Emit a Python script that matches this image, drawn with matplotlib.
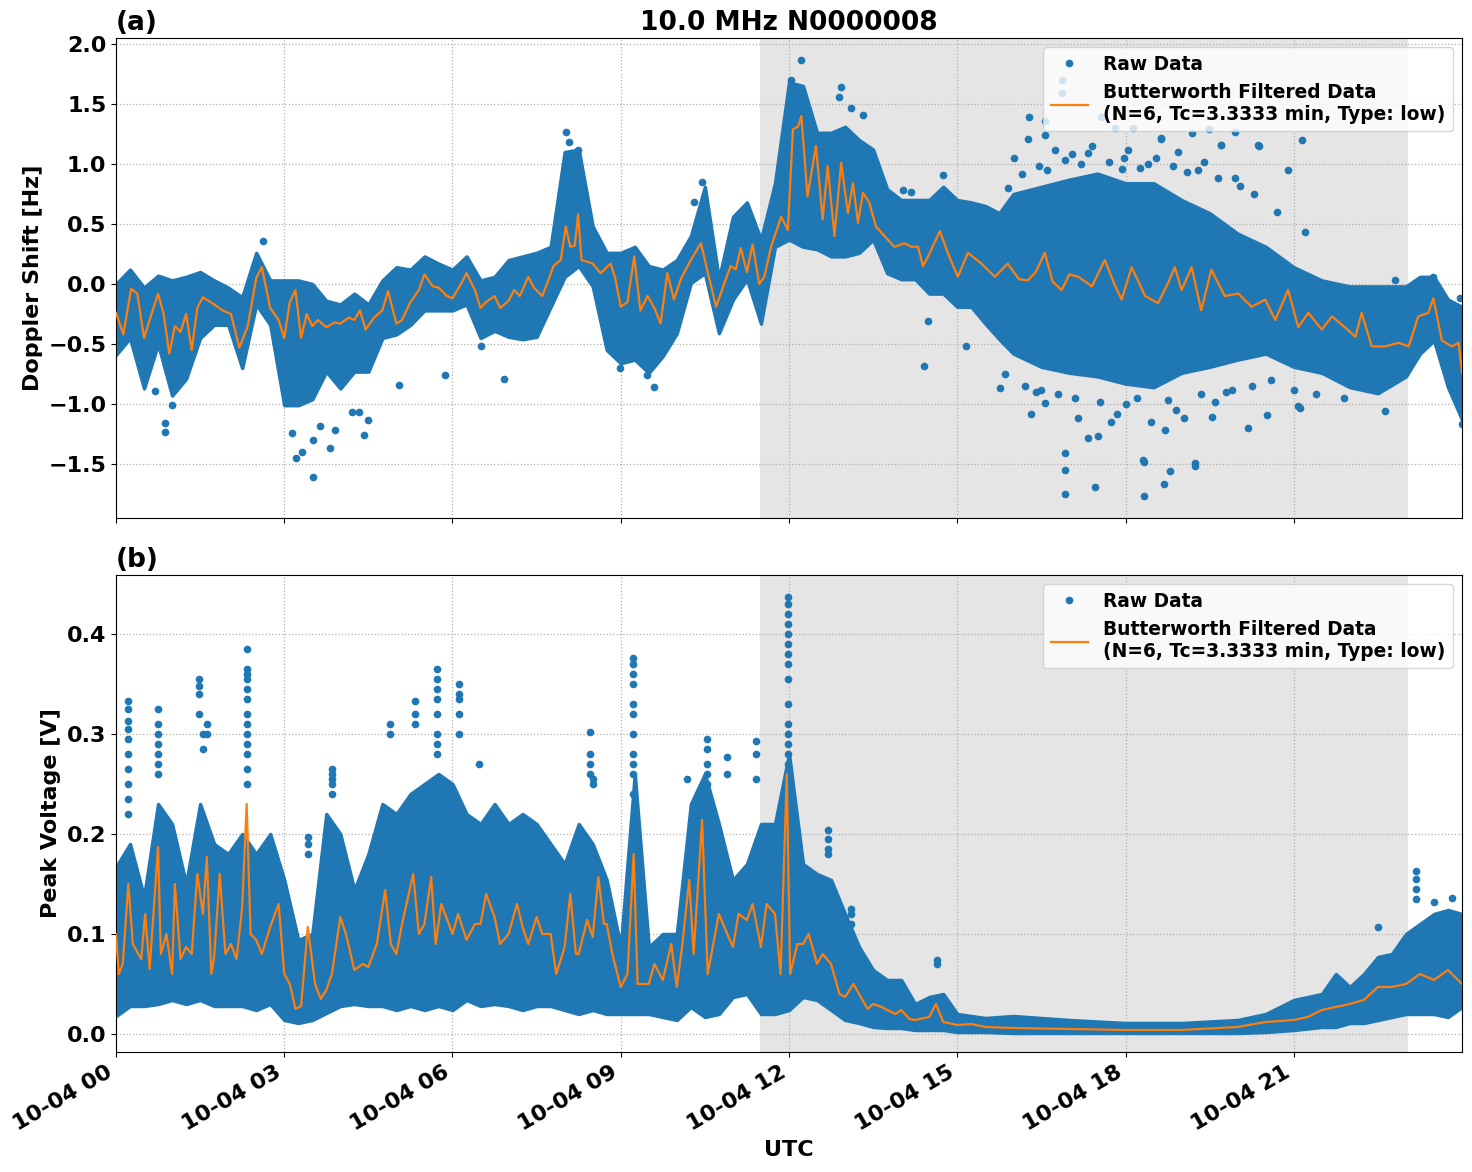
import numpy as np
import matplotlib
matplotlib.use('Agg')
import matplotlib.pyplot as plt
import matplotlib.dates as mdates

# ---- data (hours after 10-04 00 UTC) ----
DAY_START = np.datetime64('2024-10-04T00:00')
SHADE_HOURS = [11.48, 23.03]
DATA_END_HOURS = 23.9997

# (a) Doppler shift: dense raw-data band (upper / lower edge)
DOP_BAND_HOURS = [0.0, 0.25, 0.5, 0.75, 1.0, 1.25, 1.5, 1.75, 2.0, 2.25, 2.5, 2.75,
                  3.0, 3.25, 3.5, 3.75, 4.0, 4.25, 4.5, 4.75, 5.0, 5.25, 5.5, 5.75,
                  6.0, 6.25, 6.5, 6.75, 7.0, 7.25, 7.5, 7.75, 8.0, 8.25, 8.5, 8.75,
                  9.0, 9.25, 9.5, 9.75, 10.0, 10.25, 10.5, 10.75, 11.0, 11.25, 11.5, 11.75,
                  12.0, 12.25, 12.5, 12.75, 13.0, 13.25, 13.5, 13.75, 14.0, 14.25, 14.5, 14.75,
                  15.0, 15.25, 15.5, 15.75, 16.0, 16.5, 17.0, 17.5, 18.0, 18.5, 19.0, 19.5,
                  20.0, 20.5, 21.0, 21.5, 22.0, 22.5, 23.0, 23.25, 23.5, 23.75, 24.0]
DOP_BAND_UPPER = [0.0, 0.12, -0.03, 0.07, 0.03, 0.06, 0.10, 0.03, -0.03, -0.11, 0.26, 0.03,
                  0.03, 0.03, 0.0, -0.14, -0.17, -0.08, -0.17, 0.03, 0.14, 0.12, 0.23, 0.17,
                  0.12, 0.23, 0.03, 0.06, 0.20, 0.23, 0.26, 0.31, 1.10, 1.12, 0.48, 0.26,
                  0.26, 0.31, 0.15, 0.12, 0.20, 0.40, 0.81, 0.04, 0.56, 0.68, 0.37, 0.84,
                  1.68, 1.65, 1.26, 1.26, 1.31, 1.20, 1.12, 0.79, 0.70, 0.70, 0.70, 0.81,
                  0.70, 0.68, 0.65, 0.59, 0.75, 0.81, 0.87, 0.92, 0.84, 0.84, 0.70, 0.59,
                  0.42, 0.31, 0.14, 0.03, -0.02, -0.02, -0.02, 0.06, 0.06, -0.13, -0.19]
DOP_BAND_LOWER = [-0.59, -0.45, -0.87, -0.50, -0.93, -0.79, -0.45, -0.34, -0.34, -0.70, -0.17, -0.34,
                  -1.01, -1.01, -0.96, -0.73, -0.87, -0.73, -0.73, -0.45, -0.42, -0.34, -0.22, -0.22,
                  -0.22, -0.17, -0.45, -0.39, -0.44, -0.46, -0.44, -0.19, 0.06, 0.15, -0.02, -0.55,
                  -0.66, -0.63, -0.74, -0.60, -0.41, 0.01, 0.09, -0.41, -0.13, 0.04, -0.33, 0.31,
                  0.37, 0.31, 0.29, 0.23, 0.23, 0.26, 0.37, 0.09, 0.04, 0.04, -0.08, -0.08,
                  -0.19, -0.19, -0.33, -0.46, -0.58, -0.69, -0.74, -0.77, -0.83, -0.86, -0.74, -0.69,
                  -0.63, -0.58, -0.69, -0.74, -0.86, -0.91, -0.77, -0.58, -0.47, -0.86, -1.13]

# (a) scattered raw points outside the dense band
DOP_OUT_HOURS = [0.88, 0.88, 0.69, 1.0, 3.21, 3.52, 3.31, 3.14, 3.52, 3.82, 3.64, 3.9,
                 4.43, 4.5, 4.2, 4.34, 5.86, 5.04, 6.51, 2.63, 8.02, 8.08, 8.23, 10.45,
                 10.31, 6.92, 9.6, 9.47, 8.98, 12.21, 12.04, 12.93, 13.11, 13.32, 12.9, 14.4,
                 15.16, 14.47, 14.74, 14.03, 14.18, 16.92, 16.92, 16.92, 17.45, 18.33, 18.33, 18.68,
                 18.79, 19.24, 17.33, 17.51, 15.76, 16.31, 16.56, 20.19, 21.11, 22.63, 24.0, 16.28,
                 16.56, 16.02, 16.86, 16.86, 17.57, 17.81, 18.13, 17.98, 18.64, 18.94, 19.48, 19.71,
                 19.95, 20.38, 20.9, 21.15, 21.2, 22.81, 23.49, 23.97, 16.27, 16.56, 16.92, 17.33,
                 17.93, 18.64, 19.18, 19.71, 19.95, 20.37, 17.75, 18.32, 18.7, 19.24, 19.54, 20.52,
                 21.08, 16.6, 17.2, 18.4, 19.3, 17.1, 18.0, 18.9, 19.8, 16.4,
                 15.9, 16.15, 16.45, 16.75, 17.05, 17.4, 17.7, 18.05, 18.25, 18.55, 18.85, 19.1,
                 19.4, 19.65, 20.05, 20.3, 20.7, 15.85, 16.2, 16.5, 16.8, 17.15, 17.55, 17.85,
                 18.2, 18.45, 18.75, 19.05, 19.35, 19.6, 19.9, 20.25, 20.6, 21.0, 21.4, 21.9]
DOP_OUT_VALS = [-1.16, -1.23, -0.89, -1.01, -1.45, -1.61, -1.40, -1.24, -1.30, -1.37, -1.18, -1.22,
                -1.26, -1.13, -1.07, -1.07, -0.76, -0.84, -0.52, 0.36, 1.27, 1.18, 1.12, 0.85,
                0.68, -0.79, -0.86, -0.76, -0.70, 1.87, 1.70, 1.64, 1.47, 1.41, 1.56, -0.68,
                -0.52, -0.31, 0.91, 0.78, 0.77, -1.75, -1.55, -1.41, -1.69, -1.77, -1.48, -1.67,
                -1.56, -1.52, -1.28, -1.27, -0.87, -1.08, -0.99, -1.20, -1.03, -1.06, -1.17, 1.39,
                1.36, 1.05, 1.70, 1.59, 1.39, 1.30, 1.30, 1.05, 1.22, 1.10, 1.29, 1.16,
                1.27, 1.15, 0.95, 1.20, 0.43, 0.03, 0.06, -0.12, 1.21, 1.24, 1.03, 1.09,
                0.96, 1.21, 1.26, 1.16, 0.88, 1.16, -1.15, -1.47, -1.22, -1.49, -1.11, -1.09,
                -1.02, 0.95, 1.00, 1.00, 0.95, -0.95, -1.00, -1.05, -0.90, -0.90,
                0.80, 0.92, 0.98, 1.12, 1.08, 1.15, 1.02, 1.12, 0.97, 1.05, 0.98, 0.93,
                1.02, 0.88, 0.82, 0.75, 0.60, -0.75, -0.85, -0.88, -0.92, -1.12, -0.98, -1.08,
                -0.95, -1.15, -0.97, -1.12, -0.92, -0.98, -0.88, -0.85, -0.80, -0.88, -0.92, -0.95]

# (a) Butterworth filtered curve
DOP_FILT_HOURS = [0.0, 0.13, 0.27, 0.38, 0.5, 0.6, 0.75, 0.85, 0.95, 1.05, 1.15, 1.25,
                  1.35, 1.45, 1.55, 1.75, 1.9, 2.05, 2.2, 2.35, 2.5, 2.6, 2.75, 2.9,
                  3.0, 3.1, 3.2, 3.3, 3.4, 3.5, 3.6, 3.75, 3.9, 4.0, 4.15, 4.25,
                  4.35, 4.45, 4.6, 4.75, 4.85, 5.0, 5.1, 5.25, 5.4, 5.5, 5.65, 5.75,
                  5.9, 6.0, 6.15, 6.25, 6.4, 6.5, 6.6, 6.75, 6.85, 7.0, 7.1, 7.2,
                  7.35, 7.45, 7.6, 7.7, 7.8, 7.93, 8.02, 8.1, 8.18, 8.24, 8.3, 8.5,
                  8.64, 8.82, 8.9, 9.0, 9.12, 9.24, 9.35, 9.48, 9.6, 9.71, 9.83, 9.95,
                  10.07, 10.25, 10.43, 10.55, 10.7, 10.85, 10.96, 11.05, 11.14, 11.25, 11.35, 11.47,
                  11.56, 11.68, 11.86, 11.98, 12.07, 12.16, 12.22, 12.33, 12.48, 12.6, 12.69, 12.81,
                  12.93, 13.05, 13.14, 13.23, 13.32, 13.43, 13.55, 13.7, 13.88, 14.06, 14.18, 14.3,
                  14.39, 14.48, 14.69, 14.83, 15.01, 15.19, 15.43, 15.67, 15.9, 16.1, 16.26, 16.4,
                  16.56, 16.7, 16.86, 17.0, 17.16, 17.4, 17.63, 17.8, 17.93, 18.11, 18.35, 18.58,
                  18.75, 18.88, 19.0, 19.18, 19.35, 19.53, 19.77, 20.01, 20.25, 20.49, 20.67, 20.9,
                  21.08, 21.26, 21.5, 21.68, 21.91, 22.1, 22.21, 22.39, 22.63, 22.87, 23.05, 23.22,
                  23.4, 23.49, 23.64, 23.82, 23.94, 24.0]
DOP_FILT_VALS = [-0.24, -0.42, -0.04, -0.08, -0.45, -0.30, -0.08, -0.25, -0.58, -0.35, -0.40, -0.25,
                 -0.55, -0.20, -0.11, -0.17, -0.22, -0.25, -0.53, -0.35, 0.05, 0.14, -0.20, -0.30,
                 -0.45, -0.15, -0.05, -0.45, -0.25, -0.35, -0.30, -0.36, -0.32, -0.33, -0.28, -0.30,
                 -0.22, -0.38, -0.28, -0.22, -0.06, -0.33, -0.30, -0.15, -0.05, 0.08, -0.02, -0.03,
                 -0.10, -0.12, 0.00, 0.09, -0.05, -0.20, -0.15, -0.10, -0.20, -0.14, -0.05, -0.10,
                 0.06, -0.03, -0.10, 0.02, 0.15, 0.20, 0.48, 0.31, 0.32, 0.58, 0.20, 0.17,
                 0.09, 0.17, 0.05, -0.19, -0.15, 0.23, -0.22, -0.10, -0.20, -0.33, 0.09, -0.13,
                 0.04, 0.20, 0.34, 0.10, -0.19, 0.01, 0.15, 0.12, 0.30, 0.10, 0.33, 0.00,
                 0.06, 0.31, 0.56, 0.45, 1.29, 1.31, 1.40, 0.73, 1.15, 0.54, 0.98, 0.40,
                 1.01, 0.59, 0.84, 0.51, 0.76, 0.68, 0.48, 0.40, 0.31, 0.34, 0.31, 0.31,
                 0.15, 0.23, 0.44, 0.26, 0.06, 0.26, 0.17, 0.06, 0.17, 0.04, 0.03, 0.10,
                 0.26, 0.02, -0.05, 0.08, 0.06, -0.02, 0.20, 0.00, -0.13, 0.14, -0.10, -0.16,
                 0.00, 0.14, -0.05, 0.14, -0.22, 0.12, -0.10, -0.08, -0.19, -0.13, -0.30, -0.05,
                 -0.36, -0.24, -0.38, -0.27, -0.36, -0.44, -0.24, -0.52, -0.52, -0.49, -0.52, -0.27,
                 -0.24, -0.12, -0.47, -0.52, -0.49, -0.74]

# (b) Peak voltage: dense raw-data band
VOLT_BAND_HOURS = [0.0, 0.25, 0.5, 0.75, 1.0, 1.25, 1.5, 1.75, 2.0, 2.25, 2.5, 2.75,
                   3.0, 3.25, 3.5, 3.75, 4.0, 4.25, 4.5, 4.75, 5.0, 5.25, 5.5, 5.75,
                   6.0, 6.25, 6.5, 6.75, 7.0, 7.25, 7.5, 7.75, 8.0, 8.25, 8.5, 8.75,
                   9.0, 9.25, 9.5, 9.75, 10.0, 10.25, 10.5, 10.75, 11.0, 11.25, 11.5, 11.75,
                   12.0, 12.25, 12.5, 12.75, 13.0, 13.25, 13.5, 13.75, 14.0, 14.25, 14.5, 14.75,
                   15.0, 15.5, 16.0, 17.0, 18.0, 19.0, 20.0, 20.5, 21.0, 21.5, 21.75, 22.0,
                   22.25, 22.5, 22.75, 23.0, 23.25, 23.5, 23.75, 24.0]
VOLT_BAND_UPPER = [0.167, 0.19, 0.137, 0.23, 0.21, 0.15, 0.23, 0.19, 0.18, 0.20, 0.18, 0.20,
                   0.154, 0.094, 0.10, 0.22, 0.20, 0.144, 0.18, 0.23, 0.22, 0.24, 0.25, 0.26,
                   0.25, 0.22, 0.21, 0.23, 0.21, 0.22, 0.21, 0.19, 0.17, 0.21, 0.19, 0.154,
                   0.087, 0.26, 0.087, 0.10, 0.10, 0.23, 0.26, 0.21, 0.154, 0.17, 0.21, 0.21,
                   0.28, 0.17, 0.16, 0.154, 0.12, 0.087, 0.064, 0.054, 0.054, 0.03, 0.037, 0.04,
                   0.02, 0.016, 0.018, 0.014, 0.011, 0.011, 0.014, 0.02, 0.034, 0.04, 0.06, 0.047,
                   0.06, 0.077, 0.08, 0.10, 0.11, 0.12, 0.124, 0.12]
VOLT_BAND_LOWER = [0.018, 0.028, 0.028, 0.03, 0.034, 0.03, 0.034, 0.028, 0.028, 0.028, 0.024, 0.03,
                   0.014, 0.011, 0.014, 0.021, 0.028, 0.03, 0.028, 0.028, 0.024, 0.028, 0.024, 0.028,
                   0.024, 0.034, 0.028, 0.03, 0.028, 0.024, 0.028, 0.028, 0.024, 0.02, 0.024, 0.02,
                   0.02, 0.02, 0.02, 0.017, 0.014, 0.027, 0.017, 0.02, 0.037, 0.04, 0.02, 0.02,
                   0.024, 0.037, 0.034, 0.024, 0.014, 0.011, 0.007, 0.006, 0.006, 0.004, 0.004, 0.004,
                   0.002, 0.002, 0.001, 0.001, 0.001, 0.001, 0.001, 0.002, 0.004, 0.007, 0.007, 0.011,
                   0.011, 0.014, 0.017, 0.02, 0.02, 0.02, 0.017, 0.027]

# (b) isolated spikes of raw points above the band
VOLT_OUT_HOURS = [0.21, 0.21, 0.21, 0.21, 0.21, 0.21, 0.21, 0.21, 0.21, 0.21,
                  0.75, 0.75, 0.75, 0.75, 0.75, 0.75, 0.75,
                  1.48, 1.48, 1.48, 1.48, 1.55, 1.55, 1.62, 1.62,
                  2.33, 2.33, 2.33, 2.33, 2.33, 2.33, 2.33, 2.33, 2.33, 2.33, 2.33, 2.33, 2.33,
                  3.86, 3.86, 3.86, 3.86, 3.86, 3.42, 3.42, 3.42, 4.88, 4.88,
                  5.33, 5.33, 5.33, 5.73, 5.73, 5.73, 5.73, 5.73, 5.73, 5.73, 5.73,
                  6.12, 6.12, 6.12, 6.12, 6.12, 6.48,
                  8.45, 8.45, 8.45, 8.45, 8.5, 8.5,
                  9.21, 9.21, 9.21, 9.21, 9.21, 9.21, 9.21, 9.21, 9.21, 9.21, 9.21,
                  10.19, 10.53, 10.53, 10.53, 10.53, 10.53, 10.89, 10.89, 11.42, 11.42, 11.42,
                  11.99, 11.99, 11.99, 11.99, 11.99, 11.99, 11.99, 11.99, 11.99, 11.99, 11.99, 11.99,
                  11.99, 11.99, 11.99,
                  12.70, 12.70, 12.70, 12.70, 13.11, 13.11, 13.11, 14.64, 14.64,
                  22.51, 23.18, 23.18, 23.18, 23.18, 23.5, 23.82]
VOLT_OUT_VALS = [0.333, 0.325, 0.313, 0.305, 0.295, 0.28, 0.265, 0.25, 0.235, 0.22,
                 0.325, 0.31, 0.30, 0.29, 0.28, 0.27, 0.26,
                 0.355, 0.348, 0.34, 0.32, 0.30, 0.285, 0.31, 0.30,
                 0.385, 0.365, 0.36, 0.355, 0.345, 0.335, 0.32, 0.31, 0.30, 0.29, 0.28, 0.265, 0.25,
                 0.265, 0.26, 0.255, 0.25, 0.24, 0.197, 0.19, 0.18, 0.31, 0.30,
                 0.333, 0.32, 0.31, 0.365, 0.355, 0.345, 0.335, 0.32, 0.30, 0.29, 0.28,
                 0.35, 0.34, 0.335, 0.32, 0.30, 0.27,
                 0.302, 0.28, 0.27, 0.26, 0.255, 0.25,
                 0.376, 0.37, 0.36, 0.35, 0.33, 0.32, 0.30, 0.28, 0.27, 0.26, 0.24,
                 0.255, 0.295, 0.285, 0.27, 0.26, 0.25, 0.277, 0.26, 0.293, 0.28, 0.255,
                 0.437, 0.43, 0.42, 0.41, 0.40, 0.39, 0.38, 0.37, 0.355, 0.33, 0.31, 0.30,
                 0.29, 0.28, 0.27,
                 0.204, 0.195, 0.185, 0.18, 0.125, 0.12, 0.11, 0.074, 0.07,
                 0.107, 0.163, 0.155, 0.145, 0.135, 0.132, 0.136]

# (b) Butterworth filtered curve
VOLT_FILT_HOURS = [0.0, 0.05, 0.12, 0.22, 0.3, 0.45, 0.52, 0.6, 0.75, 0.8, 0.9, 1.0,
                   1.05, 1.15, 1.25, 1.35, 1.45, 1.55, 1.62, 1.7, 1.75, 1.85, 1.95, 2.05,
                   2.15, 2.25, 2.33, 2.4, 2.5, 2.6, 2.75, 2.9, 3.0, 3.1, 3.2, 3.3,
                   3.42, 3.55, 3.65, 3.75, 3.85, 4.0, 4.1, 4.25, 4.4, 4.5, 4.65, 4.8,
                   4.9, 5.0, 5.1, 5.3, 5.4, 5.5, 5.62, 5.7, 5.8, 6.0, 6.1, 6.25,
                   6.4, 6.5, 6.6, 6.75, 6.85, 7.0, 7.15, 7.25, 7.35, 7.5, 7.6, 7.75,
                   7.85, 8.0, 8.1, 8.2, 8.25, 8.4, 8.5, 8.6, 8.7, 8.75, 8.85, 9.0,
                   9.12, 9.23, 9.3, 9.5, 9.6, 9.75, 9.9, 10.0, 10.1, 10.22, 10.3, 10.45,
                   10.55, 10.75, 10.9, 11.0, 11.1, 11.25, 11.35, 11.5, 11.6, 11.75, 11.85, 11.96,
                   12.02, 12.15, 12.25, 12.35, 12.5, 12.6, 12.75, 12.9, 13.0, 13.15, 13.25, 13.4,
                   13.5, 13.65, 13.75, 13.9, 14.0, 14.15, 14.25, 14.5, 14.62, 14.75, 15.0, 15.25,
                   15.5, 16.0, 17.0, 18.0, 19.0, 20.0, 20.5, 21.0, 21.25, 21.5, 21.75, 22.0,
                   22.25, 22.5, 22.75, 23.0, 23.25, 23.5, 23.75, 24.0]
VOLT_FILT_VALS = [0.10, 0.06, 0.07, 0.15, 0.09, 0.075, 0.12, 0.065, 0.187, 0.08, 0.10, 0.06,
                  0.15, 0.075, 0.087, 0.08, 0.16, 0.12, 0.177, 0.06, 0.077, 0.16, 0.08, 0.09,
                  0.075, 0.127, 0.23, 0.10, 0.094, 0.08, 0.107, 0.13, 0.06, 0.05, 0.025, 0.028,
                  0.107, 0.05, 0.035, 0.044, 0.06, 0.117, 0.10, 0.064, 0.07, 0.067, 0.09, 0.144,
                  0.09, 0.08, 0.11, 0.16, 0.10, 0.11, 0.157, 0.09, 0.13, 0.10, 0.12, 0.094,
                  0.11, 0.11, 0.14, 0.117, 0.09, 0.10, 0.13, 0.107, 0.09, 0.117, 0.10, 0.10,
                  0.06, 0.087, 0.14, 0.08, 0.08, 0.114, 0.097, 0.157, 0.11, 0.11, 0.08, 0.047,
                  0.06, 0.18, 0.05, 0.05, 0.07, 0.054, 0.09, 0.047, 0.09, 0.154, 0.08, 0.214,
                  0.06, 0.12, 0.10, 0.087, 0.12, 0.114, 0.13, 0.087, 0.13, 0.12, 0.06, 0.26,
                  0.06, 0.09, 0.09, 0.10, 0.07, 0.08, 0.07, 0.04, 0.037, 0.05, 0.04, 0.025,
                  0.03, 0.027, 0.024, 0.02, 0.024, 0.015, 0.014, 0.017, 0.03, 0.012, 0.009, 0.010,
                  0.007, 0.006, 0.005, 0.004, 0.004, 0.007, 0.012, 0.014, 0.017, 0.024, 0.027, 0.030,
                  0.034, 0.047, 0.047, 0.050, 0.060, 0.054, 0.064, 0.050]

RAW_COLOR = '#1f77b4'
FILT_COLOR = '#ff7f0e'
FILT_LABEL = 'Butterworth Filtered Data\n(N=6, Tc=3.3333 min, Type: low)'


def to_time(hours):
    # hours after midnight -> datetime64
    secs = np.round(np.asarray(hours) * 3600).astype('timedelta64[s]')
    return DAY_START + secs


plt.rcParams['font.weight'] = 'bold'
plt.rcParams['axes.labelweight'] = 'bold'
plt.rcParams['axes.titleweight'] = 'bold'
plt.rcParams['font.size'] = 16

fig = plt.figure(figsize=(14.72, 11.72), dpi=100)
ax1 = fig.add_axes([0.0788, 0.558, 0.9144, 0.4096])
ax2 = fig.add_axes([0.0788, 0.1024, 0.9144, 0.407], sharex=ax1)

panels = [
    (ax1, DOP_BAND_HOURS, DOP_BAND_UPPER, DOP_BAND_LOWER, DOP_OUT_HOURS, DOP_OUT_VALS,
     DOP_FILT_HOURS, DOP_FILT_VALS, 'Doppler Shift [Hz]', '(a)'),
    (ax2, VOLT_BAND_HOURS, VOLT_BAND_UPPER, VOLT_BAND_LOWER, VOLT_OUT_HOURS, VOLT_OUT_VALS,
     VOLT_FILT_HOURS, VOLT_FILT_VALS, 'Peak Voltage [V]', '(b)'),
]

for ax, bh, bu, bl, oh, ov, fh, fv, ylabel, tag in panels:
    ax.axvspan(to_time(SHADE_HOURS[0]), to_time(SHADE_HOURS[1]), color='gray', alpha=0.2, lw=0)
    ax.fill_between(to_time(bh), bl, bu, color=RAW_COLOR, lw=2.5, edgecolor=RAW_COLOR, zorder=2)
    ax.plot(to_time(oh), ov, '.', color=RAW_COLOR, ms=9, label='Raw Data', zorder=2)
    ax.plot(to_time(fh), fv, '-', color=FILT_COLOR, lw=1.6, label=FILT_LABEL, zorder=3)
    ax.grid(True, linestyle=':', color='#b0b0b0', lw=0.9)
    ax.set_ylabel(ylabel)
    ax.set_title(tag, loc='left', fontsize=19)
    ax.legend(loc='upper right', fontsize=13.4)

ax1.set_title('10.0 MHz N0000008', fontsize=19)
ax1.set_ylim(-1.95, 2.05)
ax1.set_yticks([-1.5, -1.0, -0.5, 0.0, 0.5, 1.0, 1.5, 2.0])
ax2.set_ylim(-0.018, 0.459)
ax2.set_yticks([0.0, 0.1, 0.2, 0.3, 0.4])

ax2.set_xlim(to_time(0), to_time(DATA_END_HOURS))
ax2.xaxis.set_major_locator(mdates.HourLocator(byhour=range(0, 24, 3)))
ax2.xaxis.set_major_formatter(mdates.DateFormatter('%m-%d %H'))
plt.setp(ax1.get_xticklabels(), visible=False)
plt.setp(ax2.get_xticklabels(), rotation=30, ha='right')
ax2.set_xlabel('UTC')

fig.savefig('out.png', dpi=100)
